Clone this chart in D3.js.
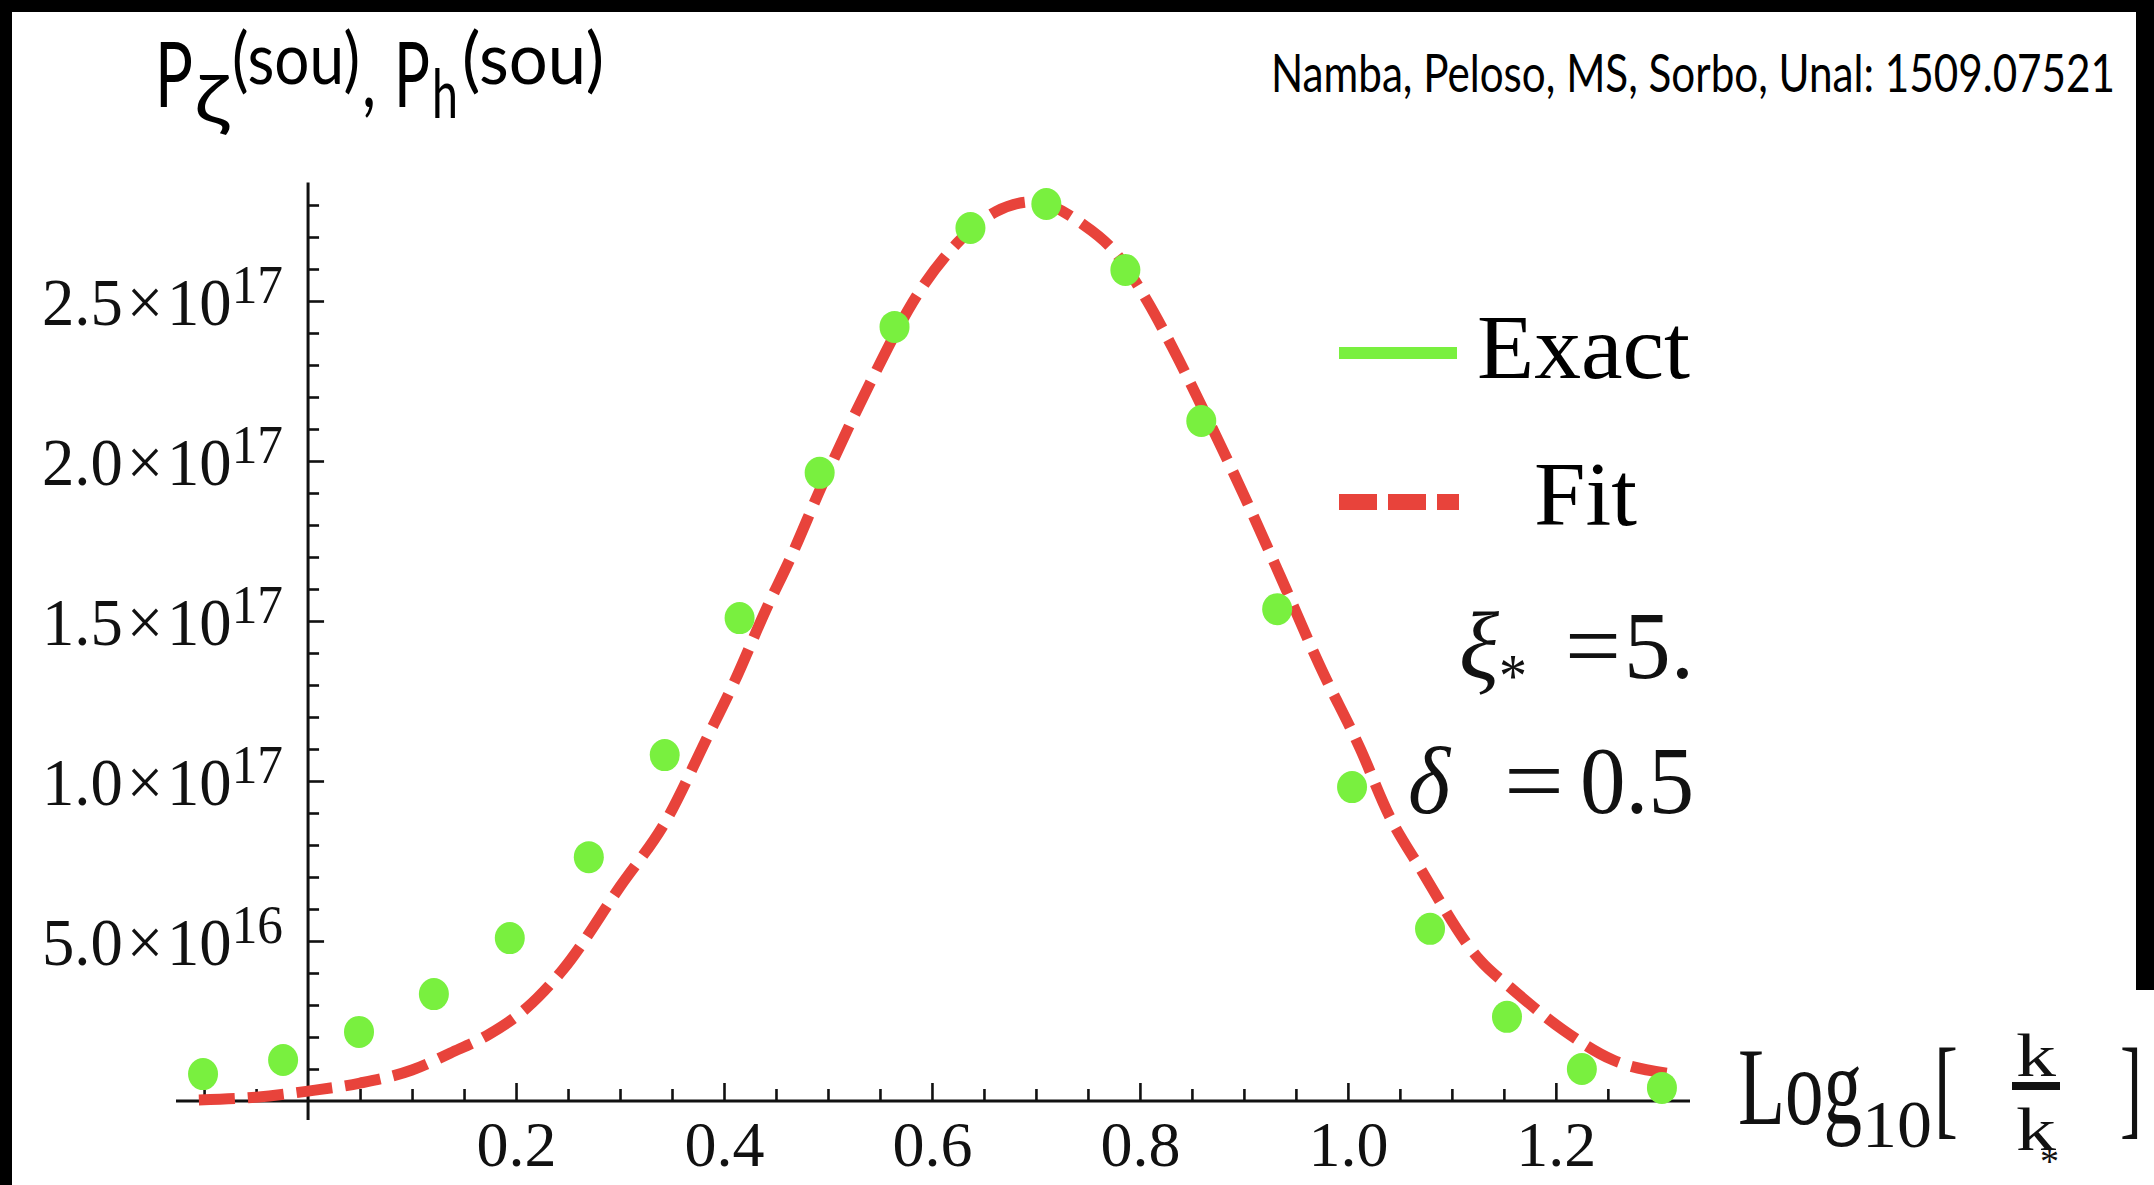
<!DOCTYPE html>
<html>
<head>
<meta charset="utf-8">
<script src="https://cdn.jsdelivr.net/npm/d3@7"></script>
<style>
  html, body { margin: 0; padding: 0; background: #fff; }
  svg { display: block; }
</style>
</head>
<body>
<svg id="chart" width="2154" height="1185"></svg>
<script>
// values, y in units of 1e17
var exactX = [-0.101, -0.024, 0.049, 0.121, 0.194, 0.270, 0.343, 0.415, 0.492, 0.564,
              0.637, 0.710, 0.786, 0.859, 0.932, 1.004, 1.079, 1.153, 1.225, 1.302];
var exactY = [0.084, 0.128, 0.216, 0.334, 0.509, 0.762, 1.081, 1.509, 1.963, 2.419,
              2.728, 2.803, 2.597, 2.125, 1.537, 0.981, 0.538, 0.263, 0.100, 0.041];

var fitX = [-0.105, -0.05, 0.0, 0.05, 0.10, 0.137, 0.175, 0.21, 0.245, 0.30, 0.345, 0.383,
            0.41, 0.441, 0.463, 0.495, 0.54, 0.588, 0.624, 0.662, 0.697, 0.745, 0.774,
            0.807, 0.832, 0.864, 0.899, 0.935, 0.973, 1.012, 1.040, 1.069, 1.127, 1.159,
            1.207, 1.255, 1.307];
var fitY = [0.003, 0.012, 0.031, 0.056, 0.097, 0.15, 0.21, 0.29, 0.41, 0.67, 0.88, 1.13,
            1.31, 1.54, 1.69, 1.93, 2.24, 2.53, 2.68, 2.78, 2.81, 2.74, 2.66,
            2.50, 2.35, 2.14, 1.90, 1.64, 1.36, 1.10, 0.89, 0.73, 0.44, 0.347,
            0.222, 0.128, 0.087];

var xTickValues = [0.2, 0.4, 0.6, 0.8, 1.0, 1.2];
var xTickLabels = ["0.2", "0.4", "0.6", "0.8", "1.0", "1.2"];
var yTickValues = [0.5, 1.0, 1.5, 2.0, 2.5];
var yTickMantissa = ["5.0", "1.0", "1.5", "2.0", "2.5"];
var yTickExponent = ["16", "17", "17", "17", "17"];

var W = 2154, H = 1185;
var serif = "'Liberation Serif', 'Times New Roman', serif";
var sans = "Lato, 'DejaVu Sans', sans-serif";
var green = "#79f03f", red = "#e8433b", ink = "#111";

var svg = d3.select("#chart");

// slide frame (black edges)
svg.append("rect").attr("width", W).attr("height", H).attr("fill", "#fff");
svg.append("rect").attr("x", 0).attr("y", 0).attr("width", W).attr("height", 12).attr("fill", "#000");
svg.append("rect").attr("x", 0).attr("y", 0).attr("width", 12).attr("height", H).attr("fill", "#000");
svg.append("rect").attr("x", 2136).attr("y", 0).attr("width", 18).attr("height", 990).attr("fill", "#000");

// scales
var x = d3.scaleLinear().domain([-0.127, 1.329]).range([176, 1690]);
var y = d3.scaleLinear().domain([0, 2.87]).range([1101, 182.6]);

// x axis: minor every 0.05, major at labels
var xMinor = d3.range(-0.1, 1.31, 0.05).map(function (v) { return Math.round(v * 100) / 100; })
  .filter(function (v) { return v !== 0 && xTickValues.indexOf(v) < 0; });

svg.append("g").attr("transform", "translate(0," + y(0) + ")")
  .call(d3.axisBottom(x).tickValues(xMinor).tickSize(-12).tickSizeOuter(0).tickFormat(""));
var gx = svg.append("g").attr("transform", "translate(0," + y(0) + ")")
  .call(d3.axisBottom(x).tickValues(xTickValues).tickSize(-18).tickSizeOuter(0).tickPadding(20)
    .tickFormat(function (d, i) { return xTickLabels[i]; }));
gx.selectAll("text").attr("font-family", serif).attr("font-size", 64).attr("fill", ink);

// y axis: minor every 0.1, major every 0.5
var yMinor = d3.range(1, 29).map(function (v) { return v / 10; })
  .filter(function (v) { return Math.abs(v * 2 - Math.round(v * 2)) > 1e-9; });
svg.append("g").attr("transform", "translate(" + x(0) + ",0)")
  .call(d3.axisLeft(y).tickValues(yMinor).tickSize(-11).tickSizeOuter(0).tickFormat(""));
svg.append("g").attr("transform", "translate(" + x(0) + ",0)")
  .call(d3.axisLeft(y).tickValues(yTickValues).tickSize(-16).tickSizeOuter(0).tickFormat(""));

svg.selectAll(".domain").remove();
svg.selectAll(".tick line").attr("stroke", ink).attr("stroke-width", 2.6);

// axis lines
svg.append("line").attr("x1", x(-0.127)).attr("x2", x(1.329))
  .attr("y1", y(0)).attr("y2", y(0)).attr("stroke", ink).attr("stroke-width", 3);
svg.append("line").attr("x1", x(0)).attr("x2", x(0))
  .attr("y1", y(0) + 19).attr("y2", y(2.87)).attr("stroke", ink).attr("stroke-width", 3);

// y tick labels  m x 10^e
yTickValues.forEach(function (v, i) {
  var t = svg.append("text").attr("x", 283).attr("y", y(v) + 24)
    .attr("text-anchor", "end").attr("font-family", serif).attr("font-size", 68).attr("fill", ink)
    .attr("textLength", 241).attr("lengthAdjust", "spacingAndGlyphs");
  t.append("tspan").text(yTickMantissa[i]);
  t.append("tspan").attr("dx", 4).text("\u00d7");
  t.append("tspan").attr("dx", 4).text("10");
  t.append("tspan").attr("dy", -22).attr("font-size", 54).text(yTickExponent[i]);
});

// fit curve
var fitLine = d3.line()
  .x(function (d) { return x(d[0]); })
  .y(function (d) { return y(d[1]); })
  .curve(d3.curveMonotoneX);
svg.append("path")
  .datum(fitX.map(function (v, i) { return [v, fitY[i]]; }))
  .attr("d", fitLine)
  .attr("fill", "none").attr("stroke", red).attr("stroke-width", 11)
  .attr("stroke-dasharray", "36,13");

// exact points
svg.selectAll("ellipse.exact")
  .data(exactX.map(function (v, i) { return [v, exactY[i]]; }))
  .enter().append("ellipse")
  .attr("class", "exact")
  .attr("cx", function (d) { return x(d[0]); })
  .attr("cy", function (d) { return y(d[1]); })
  .attr("rx", 15).attr("ry", 16)
  .attr("fill", green);

// legend
svg.append("line").attr("x1", 1339).attr("x2", 1457).attr("y1", 353).attr("y2", 353)
  .attr("stroke", green).attr("stroke-width", 12);
svg.append("text").attr("x", 1477).attr("y", 378).attr("font-family", serif)
  .attr("font-size", 90).attr("textLength", 213).attr("lengthAdjust", "spacingAndGlyphs").text("Exact");
svg.append("line").attr("x1", 1339).attr("x2", 1459).attr("y1", 502).attr("y2", 502)
  .attr("stroke", red).attr("stroke-width", 16).attr("stroke-dasharray", "38,11");
svg.append("text").attr("x", 1534).attr("y", 525).attr("font-family", serif)
  .attr("font-size", 90).attr("textLength", 103).attr("lengthAdjust", "spacingAndGlyphs").text("Fit");

// parameters
function serifText(str, xx, yy, size, len, italic) {
  var t = svg.append("text").attr("x", xx).attr("y", yy).attr("font-family", serif)
    .attr("font-size", size).attr("fill", ink).text(str);
  if (len) t.attr("textLength", len).attr("lengthAdjust", "spacingAndGlyphs");
  if (italic) t.attr("font-style", "italic");
  return t;
}
serifText("\u03be", 1459, 678, 96, 40, true);
serifText("*", 1499, 696, 62, 28);
serifText("=", 1565, 678, 96, 56);
serifText("5.", 1624, 678, 96, 70);
serifText("\u03b4", 1408, 813, 96, 42, true);
serifText("=", 1504, 813, 96, 60);
serifText("0.5", 1580, 813, 96, 114);

// x axis label  Log10[k/k*]
serifText("Log", 1738, 1124, 110, 124);
serifText("10", 1862, 1147, 68, 70);
serifText("[", 1934, 1124, 110, 24);
serifText("k", 2016, 1076, 62, 40);
svg.append("line").attr("x1", 2012).attr("x2", 2060).attr("y1", 1086).attr("y2", 1086)
  .attr("stroke", ink).attr("stroke-width", 8);
serifText("k", 2016, 1150, 62, 40);
serifText("*", 2040, 1174, 38);
serifText("]", 2120, 1124, 110, 22);

// slide title and citation
function sansText(str, xx, yy, size, len) {
  svg.append("text").attr("x", xx).attr("y", yy).attr("font-family", sans).attr("font-size", size)
    .attr("fill", "#000").attr("textLength", len).attr("lengthAdjust", "spacingAndGlyphs").text(str);
}
sansText("P", 155, 107, 92, 38);
sansText("\u03b6", 194, 124, 68, 34);
sansText("(sou)", 232, 84, 72, 128);
sansText(",", 362, 107, 80, 14);
sansText("P", 394, 107, 92, 36);
sansText("h", 432, 118, 68, 26);
sansText("(sou)", 462, 84, 72, 142);
sansText("Namba, Peloso, MS, Sorbo, Unal: 1509.07521", 1271, 92, 52, 844);
</script>
</body>
</html>
